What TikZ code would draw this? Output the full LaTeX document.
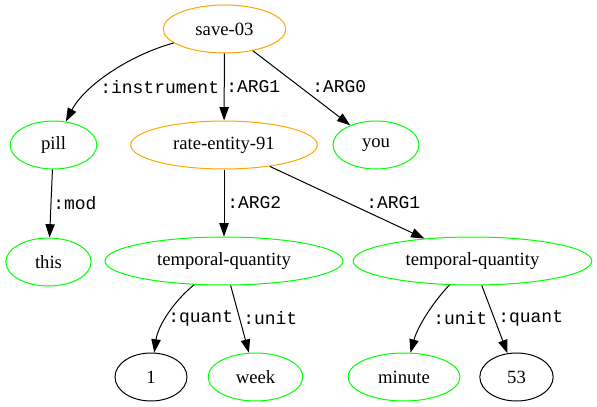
\documentclass[tikz,border=0pt]{standalone}
\usepackage{fontspec}
\setmainfont{Liberation Serif}
\setmonofont{Liberation Mono}
\usetikzlibrary{shapes.geometric,arrows.meta}
\definecolor{orn}{HTML}{FFA500}
\definecolor{grn}{HTML}{00FF00}
\begin{document}
\begin{tikzpicture}[x=0.75pt,y=-0.75pt,
  nd/.style={ellipse,draw,line width=0.75pt,inner sep=0pt,minimum height=36pt,font=\fontsize{14}{16}\selectfont},
  onode/.style={nd,draw=orn},
  gnode/.style={nd,draw=grn},
  bnode/.style={nd,draw=black},
  edge/.style={-{Triangle[length=10pt,width=7pt]},line width=0.75pt},
  lbl/.style={font=\ttfamily\fontsize{13.5}{16}\selectfont,inner sep=0pt,anchor=west}]
\useasboundingbox (0,0) rectangle (597,407);
% nodes
\node[onode,minimum width=92pt]  (save) at (224.5,29) {save-03};
\node[gnode,minimum width=65pt]  (pill) at (53.5,145) {pill};
\node[onode,minimum width=140pt] (rate) at (224,145) {rate-entity-91};
\node[gnode,minimum width=64.5pt] (you) at (376,145) {you};
\node[gnode,minimum width=64pt]  (this) at (48.5,262) {this};
\node[gnode,minimum width=178.5pt] (tql) at (224,261) {temporal-quantity};
\node[gnode,minimum width=179pt] (tqr) at (472.5,261) {temporal-quantity};
\node[bnode,minimum width=54pt]  (one) at (151,377) {1};
\node[gnode,minimum width=71pt]  (week) at (255.5,377) {week};
\node[gnode,minimum width=84pt]  (minute) at (404,377) {minute};
\node[bnode,minimum width=55pt]  (ft) at (516.5,377) {53};
% edges
\draw[edge] (save) .. controls (130,55) and (85,85) .. (pill);
\draw[edge] (save) -- (rate);
\draw[edge] (save) -- (you);
\draw[edge] (pill) -- (this);
\draw[edge] (rate) -- (tql);
\draw[edge] (rate) -- (tqr);
\draw[edge] (tql) .. controls (175,300) and (158,325) .. (one);
\draw[edge] (tql) -- (week);
\draw[edge] (tqr) .. controls (435,300) and (418,325) .. (minute);
\draw[edge] (tqr) -- (ft);
% labels
\node[lbl] (l1) at (100,87) {:instrument};
\node[lbl] (l2) at (226,87) {:ARG1};
\node[lbl] (l3) at (312,87) {:ARG0};
\node[lbl] (l4) at (53,203) {:mod};
\node[lbl] (l5) at (227,203) {:ARG2};
\node[lbl] (l6) at (366,203) {:ARG1};
\node[lbl] (l7) at (168,318) {:quant};
\node[lbl] (l8) at (243,318) {:unit};
\node[lbl] (l9) at (433,318) {:unit};
\node[lbl] (l10) at (498,318) {:quant};
\end{tikzpicture}
\end{document}
